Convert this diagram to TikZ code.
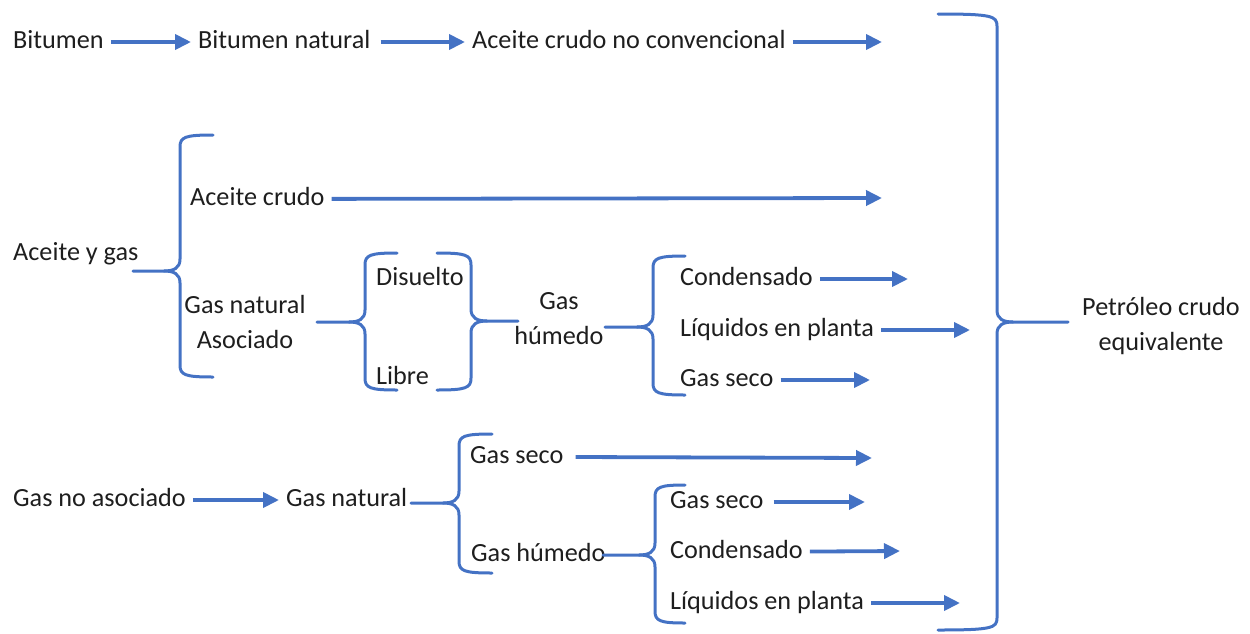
\documentclass[tikz,border=0pt]{standalone}
\usepackage{fontspec}
\setmainfont{Carlito}
\usetikzlibrary{arrows.meta}
\definecolor{obl}{HTML}{4472C4}
\definecolor{txt}{HTML}{1E1E1E}
\newcommand{\lbr}[6]{% x, ytop, ymid, ybot, xend, xtip  (opens to the right)
  \draw[br] (#5,#2) .. controls (#1+5,#2) and (#1,#2+2) .. (#1,#2+12) -- (#1,#3-12)
    .. controls (#1,#3-3) and (#1-6,#3) .. (#1-16,#3) -- (#6,#3);
  \draw[br] (#1-16,#3) .. controls (#1-6,#3) and (#1,#3+3) .. (#1,#3+12) -- (#1,#4-12)
    .. controls (#1,#4-2) and (#1+5,#4) .. (#5,#4);}
\newcommand{\rbr}[6]{% x, ytop, ymid, ybot, xend, xtip  (opens to the left)
  \draw[br] (#5,#2) .. controls (#1-5,#2) and (#1,#2+2) .. (#1,#2+12) -- (#1,#3-12)
    .. controls (#1,#3-3) and (#1+6,#3) .. (#1+16,#3) -- (#6,#3);
  \draw[br] (#1+16,#3) .. controls (#1+6,#3) and (#1,#3+3) .. (#1,#3+12) -- (#1,#4-12)
    .. controls (#1,#4-2) and (#1-5,#4) .. (#5,#4);}
\begin{document}
\begin{tikzpicture}[x=1pt,y=-1pt,
  t/.style={inner xsep=7pt, inner ysep=0pt, text height=17pt, text depth=5pt,
    font=\fontsize{26.2}{35}\selectfont, text=txt, anchor=west},
  tc/.style={t, anchor=center, align=center, text height=, text depth=},
  arr/.style={draw=obl, line width=3.8pt, -{Triangle[length=16pt,width=15pt]}},
  br/.style={draw=obl, line width=3pt, line cap=round}]
\useasboundingbox (0,0) rectangle (1250,633);
% row 1
\node[t] (bit) at (6,42) {Bitumen};
\node[t] (bitnat) at (191,42) {Bitumen natural};
\node[t] (acnc) at (465,42) {Aceite crudo no convencional};
\coordinate (c1) at (882,42);
\draw[arr] (bit) -- (bitnat);
\draw[arr] ([xshift=3pt]bitnat.east) -- (acnc);
\draw[arr] (acnc) -- (c1);
% aceite y gas
\node[t] (ayg) at (6,254) {Aceite y gas};
\node[t] (ac) at (183,199) {Aceite crudo};
\coordinate (c2) at (882,198);
\draw[arr] (ac) -- (c2);
\node[tc] (gna) at (245,322) {Gas natural\\Asociado};
\node[t] (dis) at (369,279) {Disuelto};
\node[t] (lib) at (369,378) {Libre};
\node[tc] (gh1) at (559,319) {Gas\\húmedo};
\node[t] (cond1) at (673,279) {Condensado};
\node[t] (liq1) at (673,330) {Líquidos en planta};
\node[t] (gs1) at (673,380) {Gas seco};
\coordinate (c3) at (908,279);
\coordinate (c4) at (970,330);
\coordinate (c5) at (870,380);
\draw[arr] (cond1) -- (c3);
\draw[arr] (liq1) -- (c4);
\draw[arr] (gs1) -- (c5);
% gas no asociado
\node[t] (gna2) at (6,500) {Gas no asociado};
\node[t] (gn) at (279,500) {Gas natural};
\draw[arr] (gna2) -- (gn);
\node[t] (gs2) at (463,457) {Gas seco};
\node[t] (gh2) at (464,555) {Gas húmedo};
\coordinate (c6) at (872,458);
\draw[arr] ([xshift=5pt]gs2.east) -- (c6);
\node[t] (gs3) at (663,502) {Gas seco};
\node[t] (cond2) at (663,552) {Condensado};
\node[t] (liq2) at (663,603) {Líquidos en planta};
\coordinate (c7) at (865,502);
\coordinate (c8) at (900,551);
\coordinate (c9) at (960,603);
\draw[arr] ([xshift=3pt]gs3.east) -- (c7);
\draw[arr] (cond2) -- (c8);
\draw[arr] (liq2) -- (c9);
% result
\node[tc] (pce) at (1161,326) {Petróleo crudo\\equivalente};
% braces
\lbr{180}{135}{271}{377}{213}{133}
\lbr{365}{253}{322}{390}{397}{317}
\rbr{471}{253}{321}{390}{437}{518}
\lbr{653}{256}{327}{395}{685}{605}
\lbr{459}{434}{503}{573}{492}{411}
\lbr{655}{485}{555}{623}{685}{603}
\rbr{997}{14}{322}{630}{938}{1068}
\end{tikzpicture}
\end{document}
